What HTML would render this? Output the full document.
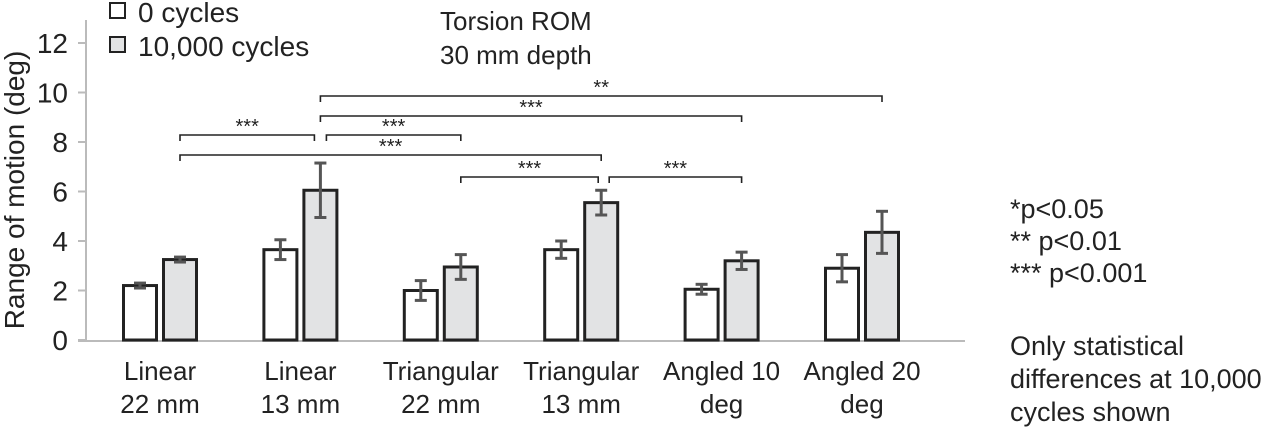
<!DOCTYPE html>
<html><head><meta charset="utf-8"><style>
html,body{margin:0;padding:0;background:#fff;}
svg{display:block;font-family:"Liberation Sans",Arial,sans-serif;}
</style></head><body>
<svg id="chart" width="1280" height="429" viewBox="0 0 1280 429">
<g id="axes"></g><g id="bars"></g><g id="sig"></g>
<g font-size="28" fill="#222">
 <rect x="110" y="3" width="15" height="15" fill="#fff" stroke="#222" stroke-width="2"/>
 <text x="138" y="22">0 cycles</text>
 <rect x="110" y="37" width="15" height="15" fill="#e2e3e4" stroke="#222" stroke-width="2"/>
 <text x="138" y="56">10,000 cycles</text>
</g>
<g font-size="26" fill="#222">
 <text x="440" y="30">Torsion ROM</text>
 <text x="440" y="64">30 mm depth</text>
</g>
<g font-size="27" fill="#222">
 <text x="1010" y="218">*p&lt;0.05</text>
 <text x="1010" y="250">** p&lt;0.01</text>
 <text x="1010" y="282">*** p&lt;0.001</text>
 <text x="1010" y="355">Only statistical</text>
 <text x="1010" y="388">differences at 10,000</text>
 <text x="1010" y="421">cycles shown</text>
</g>
<text transform="translate(24,190) rotate(-90)" text-anchor="middle" font-size="28" fill="#222">Range of motion (deg)</text>
</svg>
<script>
const categories1=["Linear","Linear","Triangular","Triangular","Angled 10","Angled 20"];
const categories2=["22 mm","13 mm","22 mm","13 mm","deg","deg"];
const values0=[2.2,3.65,2.0,3.65,2.05,2.9];
const err0=[0.1,0.4,0.4,0.35,0.2,0.55];
const values10k=[3.25,6.05,2.95,5.55,3.2,4.35];
const err10k=[0.1,1.1,0.5,0.5,0.35,0.85];
const yTicks=[0,2,4,6,8,10,12];
const sigFrom=[1,1,1,0,0,2,3];
const sigTo=[5,4,2,1,3,3,4];
const sigLabels=["**","***","***","***","***","***","***"];

const NS="http://www.w3.org/2000/svg";
const y0=340, pxPerUnit=24.75;
function yS(v){return y0-v*pxPerUnit;}
function xC(i){return 160+i*140.4;}
const bw=33, gap=7;
function mk(tag,attrs,parent){const e=document.createElementNS(NS,tag);for(const k in attrs)e.setAttribute(k,attrs[k]);parent.appendChild(e);return e;}
const axes=document.getElementById('axes'),bars=document.getElementById('bars'),sig=document.getElementById('sig');

const ya=mk('line',{x1:86,x2:86,y1:20,y2:y0,stroke:'#bbb','stroke-width':2},axes);


const xa=mk('line',{x1:78,x2:965,y1:y0+1,y2:y0+1,stroke:'#bbb','stroke-width':2},axes);


yTicks.forEach(t=>{
 const tk=mk('line',{x1:78,x2:86,y1:yS(t),y2:yS(t),stroke:'#bbb','stroke-width':2},axes);
 
 
 const tx=mk('text',{x:68,y:yS(t)+10,'text-anchor':'end','font-size':28,fill:'#222'},axes);
 tx.textContent=t;
 
 
});
function errBar(cx,v,e){
 const g=mk('g',{stroke:'#555','stroke-width':3},bars);
 
 
 mk('line',{x1:cx,x2:cx,y1:yS(v+e),y2:yS(v-e)},g);
 mk('line',{x1:cx-6,x2:cx+6,y1:yS(v+e),y2:yS(v+e)},g);
 mk('line',{x1:cx-6,x2:cx+6,y1:yS(v-e),y2:yS(v-e)},g);
}
categories1.forEach((c,i)=>{
 const cx=xC(i);
 const xw=cx-gap/2-bw, xg=cx+gap/2;
 const b1=mk('rect',{x:xw,y:yS(values0[i]),width:bw,height:values0[i]*pxPerUnit,fill:'#fff',stroke:'#222','stroke-width':3},bars);
 
 
 const b2=mk('rect',{x:xg,y:yS(values10k[i]),width:bw,height:values10k[i]*pxPerUnit,fill:'#e2e3e4',stroke:'#222','stroke-width':3},bars);
 
 
 errBar(xw+bw/2,values0[i],err0[i]);
 errBar(xg+bw/2,values10k[i],err10k[i]);
 const t=mk('text',{x:cx,y:380,'text-anchor':'middle','font-size':26,fill:'#222'},axes);
 
 
 const s1=mk('tspan',{x:cx,dy:0},t); s1.textContent=c;
 const s2=mk('tspan',{x:cx,dy:33},t); s2.textContent=categories2[i];
});
const sigY=[96,116,135,135,155,177,177];
sigFrom.forEach((f,k)=>{
 const t=sigTo[k];
 let x1=xC(f)+gap/2+bw/2, x2=xC(t)+gap/2+bw/2;
 if(k===2) x1+=6;
 if(k===3) x2-=6;
 if(k===6) x1+=8;
 if(k===5) x2-=3;
 const yy=sigY[k];
 const g=mk('g',{},sig);
 
 
 mk('path',{d:`M${x1},${yy+6}V${yy}H${x2}V${yy+6}`,fill:'none',stroke:'#222','stroke-width':1.6},g);
 const tx=mk('text',{x:(x1+x2)/2,y:yy-2,'text-anchor':'middle','font-size':20,fill:'#222'},g);
 tx.textContent=sigLabels[k];
});
</script>
</body></html>
